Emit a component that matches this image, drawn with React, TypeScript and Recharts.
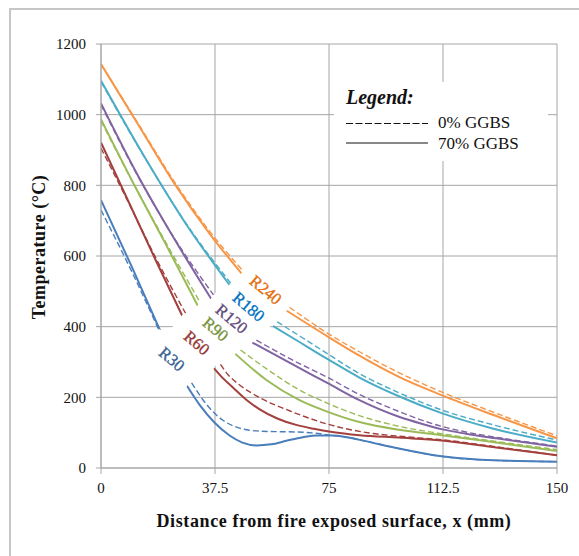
import React from 'react';
import { ComposedChart, Line, Scatter, XAxis, YAxis, CartesianGrid } from 'recharts';

type Pt = [number, number | null];

const xTicks = [0, 37.5, 75, 112.5, 150];
const yTicks = [0, 200, 400, 600, 800, 1000, 1200];

// 70% GGBS (solid) and 0% GGBS (dashed); null = gap where the label sits
const r30Solid: Pt[] = [[0,758],[10,572],[19.4,390],[23.5,null],[28.1,235],[32.5,178],[37.4,128],[42.3,92],[46.5,72],[51.1,64],[56,67],[61,77],[66.4,87],[71,92],[76,92],[81,87],[87,76],[98,55],[112,33],[125,23],[150,18]];
const r30Dashed: Pt[] = [[0,730],[10,558],[18.8,395],[24,null],[29.8,241],[34.7,180],[40.1,135],[45.6,113],[51.1,105],[57,103],[64,102],[70,99],[76,92],[81,87],[87,76],[98,55],[112,33],[125,23],[150,18]];
const r60Solid: Pt[] = [[0,921],[9,755],[18,588],[27,426],[32,null],[37.2,282],[40,255],[43.4,228],[48,192],[52.2,166],[58,140],[64.2,122],[70,111],[76,102],[85,93],[98,86],[112,78],[130,58],[150,36]];
const r60Dashed: Pt[] = [[0,905],[9,752],[18,595],[27.8,438],[33.5,null],[39.3,293],[42,262],[45.6,235],[52,200],[62,162],[74.6,124],[88.3,99],[98,90],[112,80],[130,60],[150,36]];
const r90Solid: Pt[] = [[0,987],[11,800],[21.5,630],[31.9,458],[38,null],[44.2,323],[54.4,249],[65.3,192],[74.6,159],[85,130],[98,108],[112,93],[130,72],[150,48]];
const r90Dashed: Pt[] = [[0,982],[11,800],[22,628],[32.8,466],[39,null],[45.9,334],[56.6,268],[65,222],[74.6,183],[85,148],[98,118],[112,97],[130,75],[150,52]];
const r120Solid: Pt[] = [[0,1032],[12,830],[24,650],[36.3,478],[43,null],[49.8,355],[62,298],[74.6,240],[85,192],[98,145],[106,124],[112,110],[120,97],[130,84],[150,60]];
const r120Dashed: Pt[] = [[0,1028],[12,828],[24,652],[37,490],[44,null],[51.1,362],[62,310],[74.6,256],[85,208],[98,160],[106,134],[112,118],[120,102],[130,87],[150,62]];
const r180Solid: Pt[] = [[0,1096],[14,885],[28,690],[42.3,518],[49.5,null],[56.6,402],[65,358],[74.6,308],[85,256],[98,203],[111.8,156],[128.8,112],[150,72]];
const r180Dashed: Pt[] = [[0,1093],[14,884],[28,692],[42.7,523],[50,null],[57.9,414],[66,370],[74.6,323],[85,267],[98,213],[111.8,165],[130,120],[150,79]];
const r240Solid: Pt[] = [[0,1143],[12,975],[24,807],[36,660],[46.2,551],[53.5,null],[61.1,445],[74.6,372],[85,318],[98,258],[111.8,207],[130,147],[150,84]];
const r240Dashed: Pt[] = [[0,1143],[12,978],[24,812],[36,667],[46.7,558],[54,null],[62,455],[74.6,381],[85,329],[98,270],[111.8,216],[130,155],[150,91]];

const seriesNames = ['R30', 'R60', 'R90', 'R120', 'R180', 'R240'];
const lineColors = ['#4a7ebb', '#a3403d', '#9bbb59', '#8064a2', '#4bacc6', '#f79646'];
const labelColors = ['#376092', '#953735', '#77933c', '#604a7b', '#0070c0', '#e46c0a'];
const solidSets = [r30Solid, r60Solid, r90Solid, r120Solid, r180Solid, r240Solid];
const dashedSets = [r30Dashed, r60Dashed, r90Dashed, r120Dashed, r180Dashed, r240Dashed];

// label anchor positions (data units)
const labelX = [23.3, 31.5, 37.7, 43.0, 48.6, 54.2];
const labelY = [308, 354, 393, 422, 456, 504];

const toRows = (pts: Pt[]) => pts.map(([x, y]) => ({ x, y }));
const labelRows = seriesNames.map((n, i) => ({ x: labelX[i], y: labelY[i], name: n, color: labelColors[i] }));

const FONT = '"Liberation Serif", "DejaVu Serif", serif';
const GRID = '#a6a6a6';

const LabelBack = (props: any) => {
  const { cx, cy } = props;
  if (cx == null || cy == null) return null;
  return (
    <g transform={`translate(${cx},${cy}) rotate(40)`}>
      <rect x={-29} y={-15} width={58} height={30} fill="#fff" />
    </g>
  );
};

const LabelText = (props: any) => {
  const { cx, cy, payload } = props;
  if (cx == null || cy == null) return null;
  return (
    <g transform={`translate(${cx},${cy}) rotate(40)`}>
      <text x={0} y={0} textAnchor="middle" dominantBaseline="central" fontSize={16.5} fill={payload.color} stroke={payload.color} strokeWidth={0.35} fontFamily={FONT}>
        {payload.name}
      </text>
    </g>
  );
};

export default function App() {
  return (
    <div style={{ position: 'absolute', left: 0, top: 0, width: 579, height: 556, background: '#fff', fontFamily: FONT }}>
      <div style={{ position: 'absolute', left: 9, top: 8, width: 570, height: 548, borderTop: '2px solid #c6c6c6', borderLeft: '2px solid #c6c6c6' }} />
      <div style={{ position: 'absolute', left: 0, top: 0 }}>
        <ComposedChart width={579} height={556} margin={{ top: 44, right: 22, bottom: 58, left: 41 }} style={{ fontFamily: FONT }}>
          <CartesianGrid stroke={GRID} strokeWidth={1} />
          <XAxis
            type="number"
            dataKey="x"
            domain={[0, 150]}
            ticks={xTicks}
            allowDataOverflow
            height={30}
            tickSize={6}
            tickMargin={8}
            stroke={GRID}
            tick={{ fill: '#111', fontSize: 15, fontFamily: FONT }}
          />
          <YAxis
            type="number"
            dataKey="y"
            domain={[0, 1200]}
            ticks={yTicks}
            allowDataOverflow
            width={60}
            tickSize={5}
            tickMargin={10}
            stroke={GRID}
            tick={{ fill: '#111', fontSize: 15, fontFamily: FONT }}
          />
          <Scatter data={labelRows} dataKey="y" shape={LabelBack} isAnimationActive={false} legendType="none" />
          <Scatter data={labelRows} dataKey="y" shape={LabelText} isAnimationActive={false} legendType="none" />
          {dashedSets.map((d, i) => (
            <Line
              key={'d' + i}
              data={toRows(d)}
              dataKey="y"
              type="monotone"
              stroke={lineColors[i]}
              strokeWidth={1.4}
              strokeDasharray="6 3"
              dot={false}
              activeDot={false}
              isAnimationActive={false}
              name={seriesNames[i] + ' 0% GGBS'}
            />
          ))}
          {solidSets.map((d, i) => (
            <Line
              key={'s' + i}
              data={toRows(d)}
              dataKey="y"
              type="monotone"
              stroke={lineColors[i]}
              strokeWidth={2}
              dot={false}
              activeDot={false}
              isAnimationActive={false}
              name={seriesNames[i] + ' 70% GGBS'}
            />
          ))}
        </ComposedChart>
      </div>
      <svg style={{ position: 'absolute', left: 0, top: 0, pointerEvents: 'none' }} width={579} height={556}>
        <text transform="translate(45,247) rotate(-90)" textAnchor="middle" fontSize={18} letterSpacing={0.5} fontWeight="bold" fill="#111" fontFamily={FONT}>
          Temperature (°C)
        </text>
        <text x={334} y={527} textAnchor="middle" fontSize={18} letterSpacing={0.6} fontWeight="bold" fill="#111" fontFamily={FONT}>
          Distance from fire exposed surface, x (mm)
        </text>
        <rect x={334} y={82} width={214} height={79} fill="#fff" />
        <text x={346} y={104} fontSize={20} fontWeight="bold" fontStyle="italic" fill="#111" fontFamily={FONT}>Legend:</text>
        <line x1={346} x2={428} y1={123.5} y2={123.5} stroke="#111" strokeWidth={1} strokeDasharray="7 2.5" />
        <text x={438} y={128} fontSize={17} fill="#111" fontFamily={FONT}>0% GGBS</text>
        <line x1={346} x2={428} y1={143} y2={143} stroke="#111" strokeWidth={1} />
        <text x={438} y={149} fontSize={17} fill="#111" fontFamily={FONT}>70% GGBS</text>
      </svg>
    </div>
  );
}
